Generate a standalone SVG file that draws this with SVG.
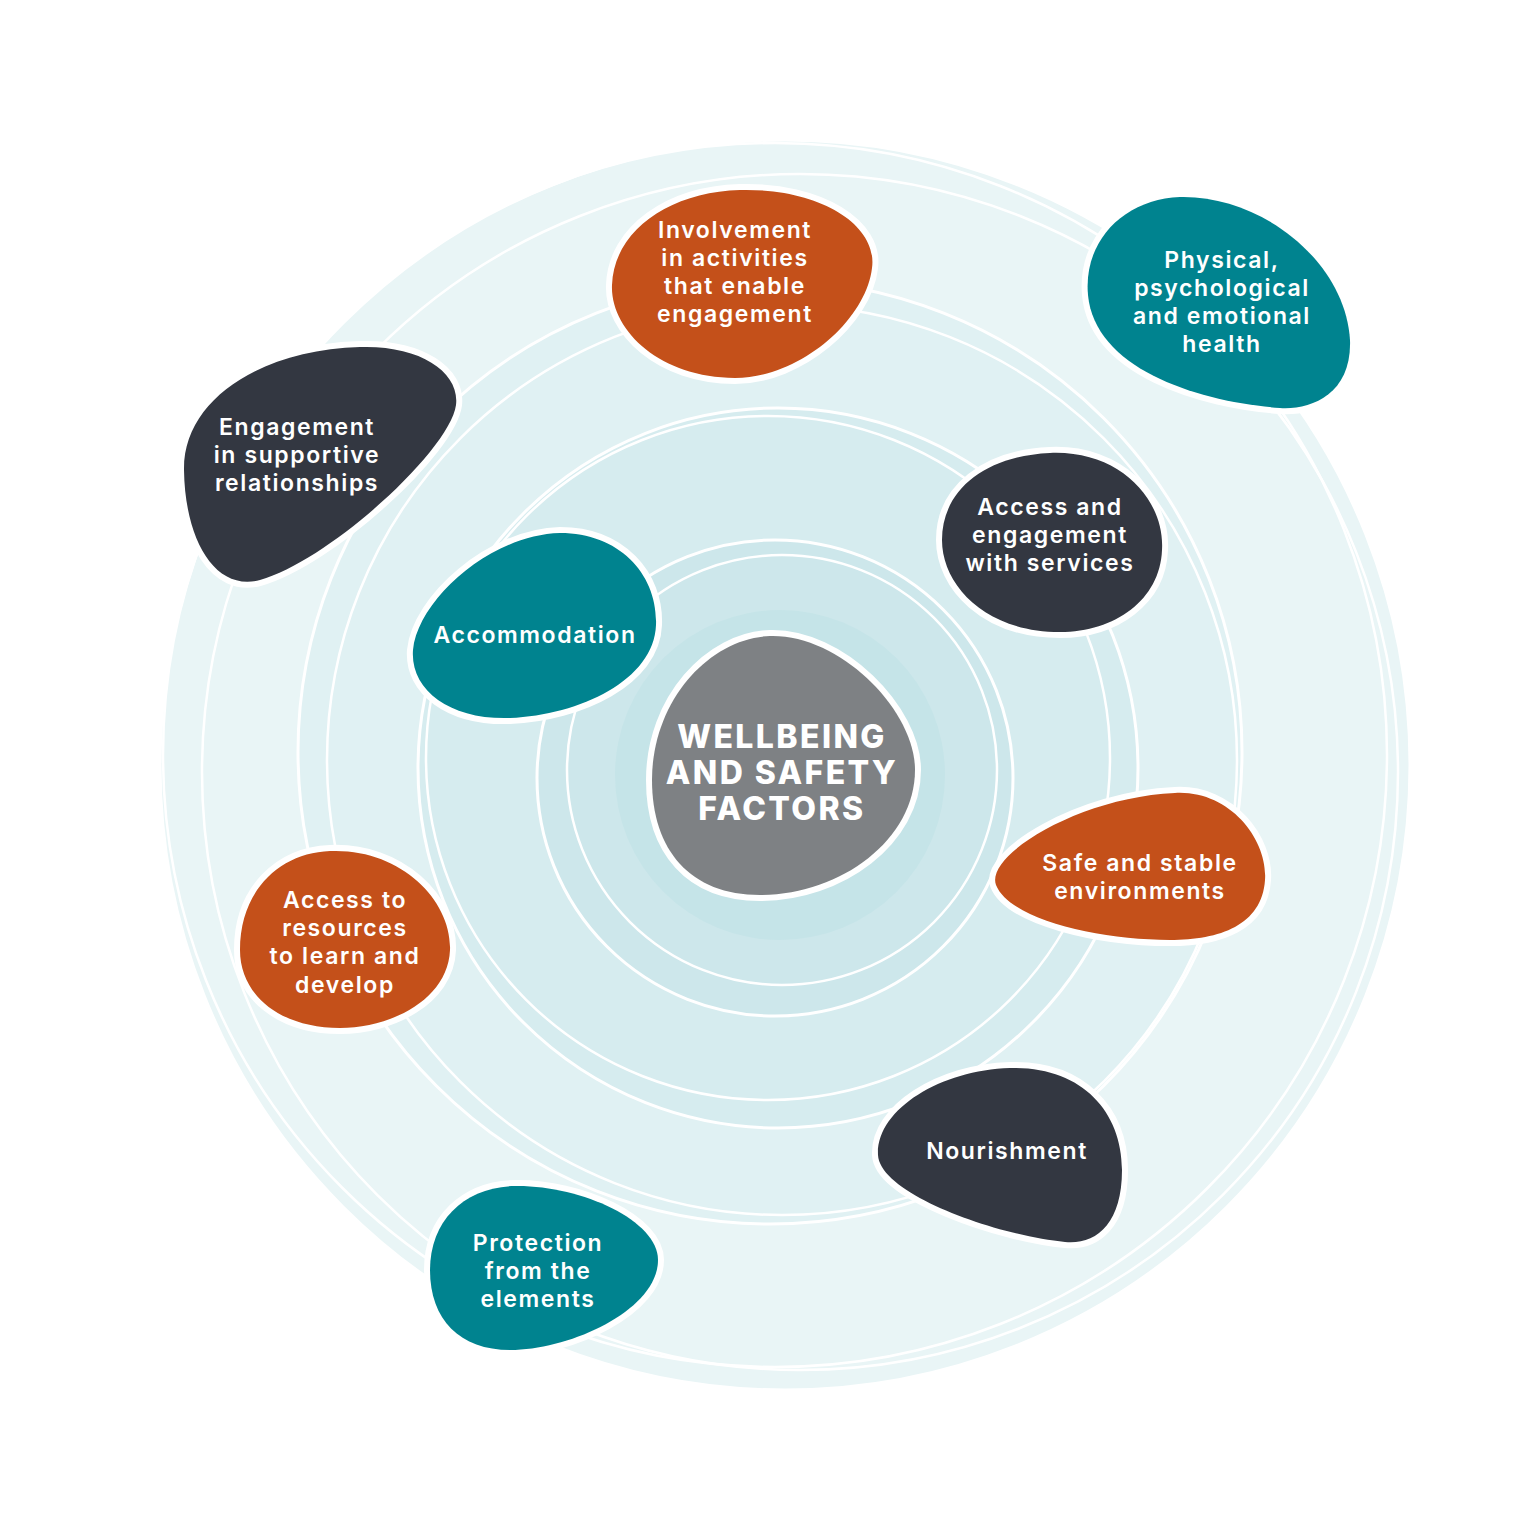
<svg xmlns="http://www.w3.org/2000/svg" width="1536" height="1533" viewBox="0 0 1536 1533">
<style>
.ring{stroke:#ffffff;stroke-width:3}
.wob{fill:none;stroke:#ffffff;stroke-width:2.5}
.blob{stroke:#ffffff;stroke-width:12;paint-order:stroke}
.or{fill:#c4501a}.te{fill:#00838f}.dk{fill:#333741}.gy{fill:#7e8184}
.t{font-family:Inter,"Noto Sans",sans-serif;font-weight:600;font-size:23px;fill:#ffffff;text-anchor:middle;letter-spacing:1.6px}
.tc{font-family:Inter,"Noto Sans",sans-serif;font-weight:800;font-size:32px;fill:#ffffff;text-anchor:middle;letter-spacing:2.4px}
</style>
<rect width="1536" height="1533" fill="#ffffff"/>
<g id="rings">
<circle class="ring" cx="785" cy="765" r="625" fill="#e9f5f6"/>
<circle class="wob" cx="800" cy="772" r="598"/>
<circle class="wob" cx="775" cy="755" r="612"/>
<circle class="ring" cx="770" cy="752" r="472" fill="#e0f1f3"/>
<circle class="wob" cx="782" cy="760" r="455"/>
<circle class="ring" cx="778" cy="768" r="360" fill="#d6ecef"/>
<circle class="wob" cx="768" cy="758" r="342"/>
<circle class="ring" cx="775" cy="778" r="238" fill="#cde7eb"/>
<circle class="wob" cx="782" cy="770" r="215"/>
<circle cx="780" cy="775" r="165" fill="#c5e4e8"/>
</g>
<g id="connectors"></g>
<g id="n-involvement">
<path class="blob or" d="M 740 190 C 820 188, 878 225, 872 268 C 866 320, 800 378, 735 378 C 660 378, 610 330, 612 285 C 614 230, 670 192, 740 190 Z"/>
<text class="t" x="735" y="238">Involvement</text>
<text class="t" x="735" y="266">in activities</text>
<text class="t" x="735" y="294">that enable</text>
<text class="t" x="735" y="322">engagement</text>
</g>
<g id="n-physical">
<path class="blob te" d="M 1180 197 C 1260 195, 1345 260, 1350 340 C 1352 395, 1310 410, 1280 408 C 1200 402, 1095 370, 1088 295 C 1083 240, 1125 199, 1180 197 Z"/>
<text class="t" x="1222" y="268">Physical,</text>
<text class="t" x="1222" y="296">psychological</text>
<text class="t" x="1222" y="324">and emotional</text>
<text class="t" x="1222" y="352">health</text>
</g>
<g id="n-supportive">
<path class="blob dk" d="M 360 347 C 420 345, 460 372, 456 405 C 450 450, 330 560, 260 580 C 215 592, 185 540, 184 470 C 183 400, 260 350, 360 347 Z"/>
<text class="t" x="297" y="435">Engagement</text>
<text class="t" x="297" y="463">in supportive</text>
<text class="t" x="297" y="491">relationships</text>
</g>
<g id="n-services">
<path class="blob dk" d="M 1050 453 C 1120 450, 1165 500, 1162 550 C 1160 600, 1115 632, 1060 632 C 985 632, 942 585, 942 540 C 942 490, 985 456, 1050 453 Z"/>
<text class="t" x="1050" y="515">Access and</text>
<text class="t" x="1050" y="543">engagement</text>
<text class="t" x="1050" y="571">with services</text>
</g>
<g id="n-accommodation">
<path class="blob te" d="M 560 533 C 620 533, 658 575, 656 625 C 654 680, 580 715, 510 718 C 450 720, 410 690, 413 650 C 418 600, 490 535, 560 533 Z"/>
<text class="t" x="535" y="643">Accommodation</text>
</g>
<g id="n-center">
<path class="blob gy" d="M 770 636 C 840 634, 915 710, 915 770 C 915 840, 840 895, 760 895 C 690 895, 652 850, 652 780 C 652 700, 710 638, 770 636 Z"/>
<text class="tc" x="782" y="748">WELLBEING</text>
<text class="tc" x="782" y="784">AND SAFETY</text>
<text class="tc" x="782" y="820">FACTORS</text>
</g>
<g id="n-safe">
<path class="blob or" d="M 1175 793 C 1230 790, 1268 840, 1265 880 C 1262 925, 1220 940, 1170 940 C 1100 940, 1010 920, 996 885 C 985 855, 1080 797, 1175 793 Z"/>
<text class="t" x="1140" y="871">Safe and stable</text>
<text class="t" x="1140" y="899">environments</text>
</g>
<g id="n-resources">
<path class="blob or" d="M 330 851 C 400 848, 452 900, 450 950 C 448 1000, 390 1028, 340 1028 C 280 1028, 240 995, 240 950 C 240 890, 280 853, 330 851 Z"/>
<text class="t" x="345" y="908">Access to</text>
<text class="t" x="345" y="936">resources</text>
<text class="t" x="345" y="964">to learn and</text>
<text class="t" x="345" y="993">develop</text>
</g>
<g id="n-nourishment">
<path class="blob dk" d="M 1010 1068 C 1080 1066, 1122 1110, 1122 1170 C 1122 1225, 1095 1245, 1065 1242 C 1000 1236, 880 1195, 878 1155 C 876 1110, 940 1070, 1010 1068 Z"/>
<text class="t" x="1007" y="1159">Nourishment</text>
</g>
<g id="n-protection">
<path class="blob te" d="M 515 1186 C 580 1185, 658 1220, 658 1260 C 658 1310, 570 1350, 510 1350 C 460 1350, 430 1320, 430 1270 C 430 1220, 465 1187, 515 1186 Z"/>
<text class="t" x="538" y="1251">Protection</text>
<text class="t" x="538" y="1279">from the</text>
<text class="t" x="538" y="1307">elements</text>
</g>
</svg>
